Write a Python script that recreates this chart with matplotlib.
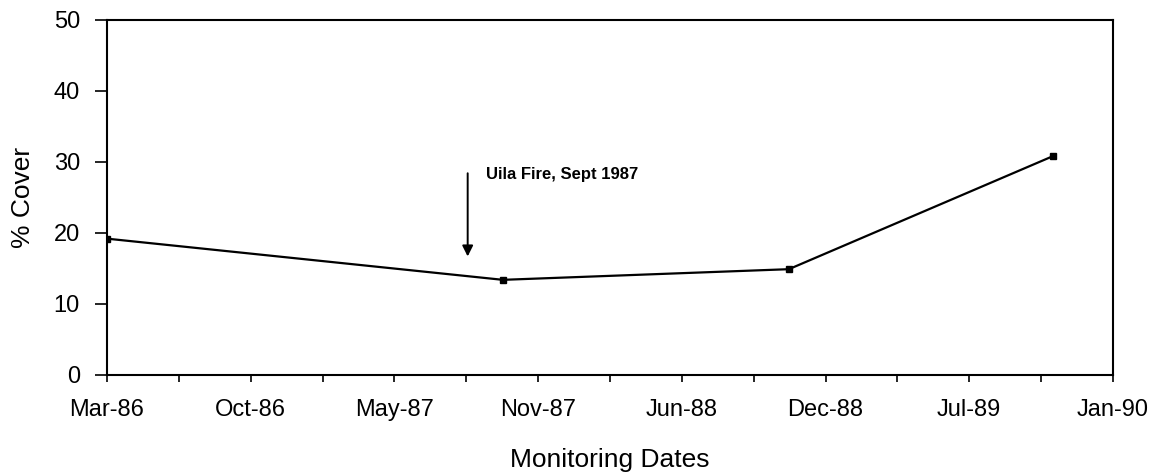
import datetime as dt
import matplotlib
matplotlib.use("Agg")
import matplotlib.pyplot as plt
import matplotlib.dates as mdates

# data
dates = [dt.date(1986, 3, 31), dt.date(1987, 10, 3), dt.date(1988, 11, 4), dt.date(1989, 11, 6)]
cover = [19.2, 13.4, 14.9, 30.8]

axis_start = dt.date(1986, 3, 31)
fire_date = dt.date(1987, 8, 15)

plt.rcParams['font.family'] = ['Liberation Sans', 'DejaVu Sans']

fig = plt.figure(figsize=(11.55, 4.74), dpi=100)
ax = fig.add_axes([0.0926, 0.2089, 0.871, 0.749])

ax.plot(dates, cover, color='black', lw=1.6, marker='s', markersize=4.5)

# x axis: major tick every 200 days, minor every 100
major = [axis_start + dt.timedelta(days=200 * k) for k in range(8)]
minor = [axis_start + dt.timedelta(days=100 * k) for k in range(15)]
ax.set_xticks(major)
ax.set_xticks(minor, minor=True)
ax.xaxis.set_major_formatter(mdates.DateFormatter('%b-%y'))
ax.set_xlim(major[0], major[-1])
ax.set_ylim(0, 50)
ax.set_yticks(range(0, 51, 10))

ax.tick_params(axis='x', which='both', direction='out', length=5, width=1.2,
               labelsize=17, pad=12)
ax.tick_params(axis='y', direction='out', length=8.5, width=1.2,
               labelsize=17, pad=11)
for s in ax.spines.values():
    s.set_linewidth(1.5)

ax.set_ylabel('% Cover', fontsize=19)
ax.yaxis.set_label_coords(-0.072, 0.5)
ax.set_xlabel('Monitoring Dates', fontsize=19, labelpad=20)

ax.annotate('', xy=(fire_date, 16.3), xytext=(fire_date, 28.8),
            arrowprops=dict(arrowstyle='-|>', color='black', lw=1.4, mutation_scale=16))
ax.text(fire_date + dt.timedelta(days=25), 28.3, 'Uila Fire, Sept 1987',
        fontsize=12, fontweight='bold', va='center', ha='left')

fig.savefig('out.png', dpi=100)
